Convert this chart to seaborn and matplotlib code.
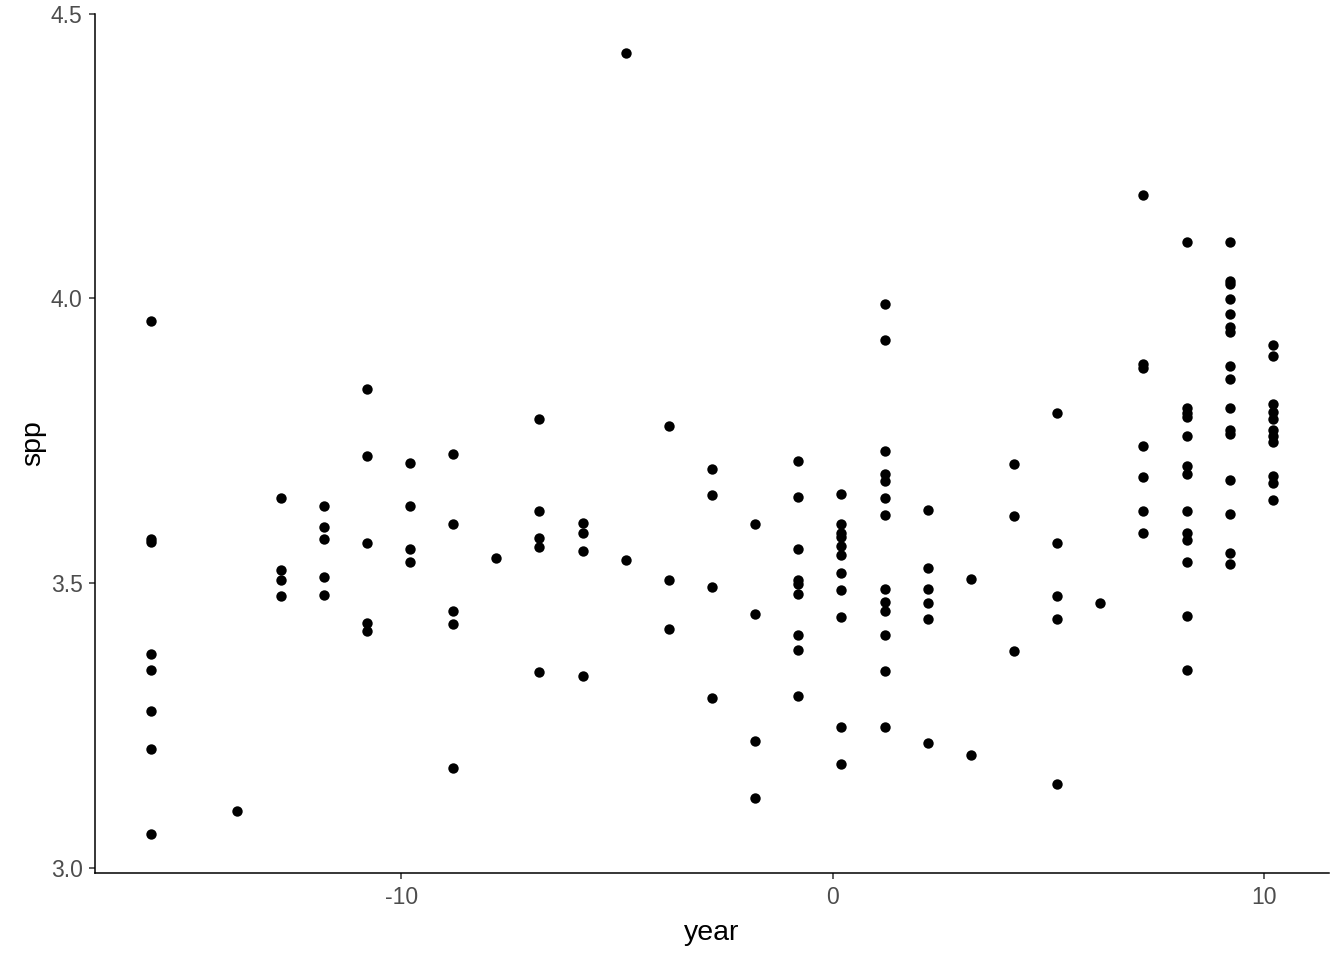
import matplotlib
matplotlib.use("Agg")
import matplotlib.pyplot as plt
import seaborn as sns
import pandas as pd

# centred year of each column of points
years = [-15.8, -13.8, -12.8, -11.8, -10.8, -9.8, -8.8, -7.8, -6.8, -5.8,
         -4.8, -3.8, -2.8, -1.8, -0.8, 0.2, 1.2, 2.2, 3.2, 4.2,
         5.2, 6.2, 7.2, 8.2, 9.2, 10.2]

# spp values observed in each year column
spp_m158 = [3.960, 3.577, 3.572, 3.376, 3.347, 3.276, 3.209, 3.060]
spp_m138 = [3.101]
spp_m128 = [3.650, 3.523, 3.506, 3.478]
spp_m118 = [3.636, 3.599, 3.577, 3.511, 3.480]
spp_m108 = [3.841, 3.724, 3.571, 3.430, 3.416]
spp_m098 = [3.711, 3.636, 3.561, 3.537]
spp_m088 = [3.727, 3.604, 3.451, 3.429, 3.176]
spp_m078 = [3.545]
spp_m068 = [3.788, 3.627, 3.579, 3.564, 3.345]
spp_m058 = [3.605, 3.588, 3.557, 3.337]
spp_m048 = [4.430, 3.541]
spp_m038 = [3.776, 3.506, 3.419]
spp_m028 = [3.701, 3.655, 3.494, 3.299]
spp_m018 = [3.604, 3.446, 3.223, 3.123]
spp_m008 = [3.715, 3.651, 3.560, 3.505, 3.498, 3.482, 3.410, 3.383, 3.302]
spp_p002 = [3.657, 3.604, 3.588, 3.581, 3.566, 3.550, 3.518, 3.488, 3.441,
            3.248, 3.183]
spp_p012 = [3.990, 3.927, 3.732, 3.691, 3.679, 3.650, 3.620, 3.490, 3.468,
            3.452, 3.409, 3.346, 3.248]
spp_p022 = [3.629, 3.527, 3.490, 3.466, 3.437, 3.220]
spp_p032 = [3.508, 3.199]
spp_p042 = [3.709, 3.618, 3.381]
spp_p052 = [3.799, 3.571, 3.478, 3.437, 3.148]
spp_p062 = [3.466]
spp_p072 = [4.181, 3.885, 3.877, 3.741, 3.686, 3.626, 3.588]
spp_p082 = [4.099, 3.808, 3.799, 3.791, 3.759, 3.706, 3.692, 3.627, 3.588,
            3.576, 3.538, 3.443, 3.348]
spp_p092 = [4.099, 4.031, 4.026, 3.999, 3.972, 3.949, 3.941, 3.881, 3.859,
            3.808, 3.769, 3.762, 3.681, 3.622, 3.553, 3.533]
spp_p102 = [3.918, 3.899, 3.815, 3.801, 3.789, 3.769, 3.759, 3.748, 3.688,
            3.676, 3.647]

spp_columns = [spp_m158, spp_m138, spp_m128, spp_m118, spp_m108, spp_m098,
               spp_m088, spp_m078, spp_m068, spp_m058, spp_m048, spp_m038,
               spp_m028, spp_m018, spp_m008, spp_p002, spp_p012, spp_p022,
               spp_p032, spp_p042, spp_p052, spp_p062, spp_p072, spp_p082,
               spp_p092, spp_p102]

x_ticks = [-10, 0, 10]
x_tick_labels = ["-10", "0", "10"]
y_ticks = [3.0, 3.5, 4.0, 4.5]
y_tick_labels = ["3.0", "3.5", "4.0", "4.5"]

rows = []
for yr, vals in zip(years, spp_columns):
    for v in vals:
        rows.append({"year": yr, "spp": v})
df = pd.DataFrame(rows)

sns.set_theme(style="ticks")
plt.rcParams["font.family"] = ["Liberation Sans", "DejaVu Sans"]

fig = plt.figure(figsize=(13.44, 9.6), dpi=100)
ax = fig.add_axes([95 / 1344, 1 - 873 / 960, 1234 / 1344, (873 - 13.5) / 960])

sns.scatterplot(data=df, x="year", y="spp", ax=ax, color="black",
                s=56, linewidth=0, edgecolor="black")

xmin, xmax = min(years), max(years)
xr = xmax - xmin
ax.set_xlim(xmin - 0.05 * xr, xmax + 0.05 * xr)
ymin, ymax = df["spp"].min(), df["spp"].max()
yr_ = ymax - ymin
ax.set_ylim(ymin - 0.05 * yr_, ymax + 0.05 * yr_)

ax.set_xticks(x_ticks)
ax.set_xticklabels(x_tick_labels)
ax.set_yticks(y_ticks)
ax.set_yticklabels(y_tick_labels)

for side in ["top", "right"]:
    ax.spines[side].set_visible(False)
for side in ["left", "bottom"]:
    ax.spines[side].set_linewidth(1.1)
    ax.spines[side].set_color("black")

ax.tick_params(axis="both", length=4, width=1.1, color="#333333",
               labelcolor="#4D4D4D", labelsize=16.5, pad=5)

ax.set_xlabel("year", fontsize=20.5, color="black", labelpad=8)
ax.set_ylabel("spp", fontsize=20.5, color="black", labelpad=3)
ax.grid(False)

fig.savefig("out.png", dpi=100, facecolor="white")
